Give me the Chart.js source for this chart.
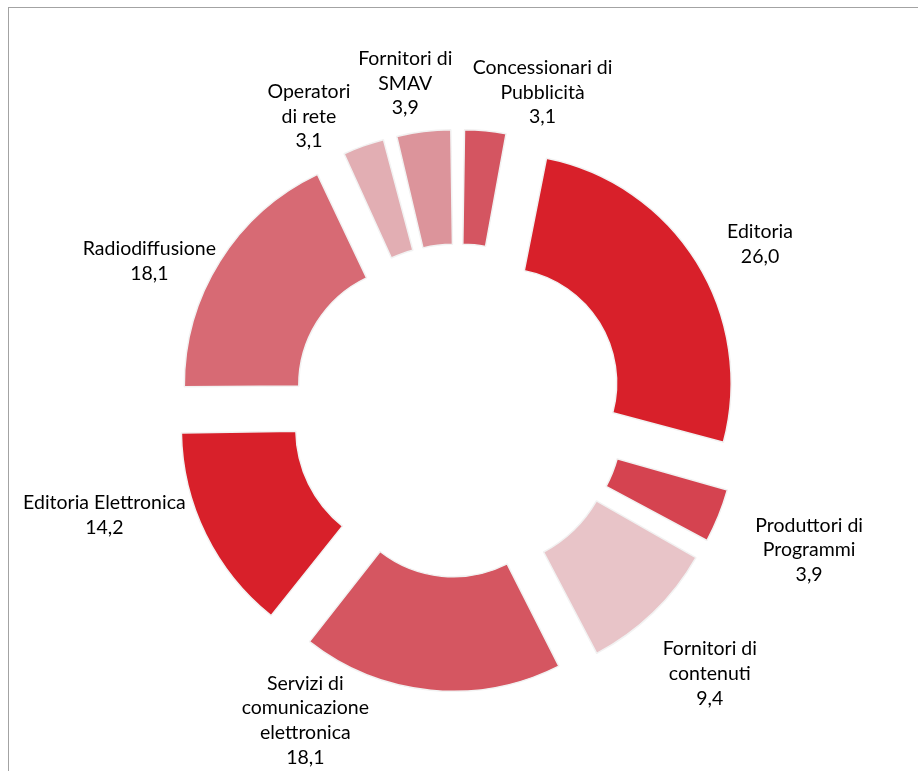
<!DOCTYPE html>
<html>
<head>
<meta charset="utf-8">
<script src="https://cdn.jsdelivr.net/npm/chart.js@4.4.1/dist/chart.umd.min.js"></script>
<style>
  html, body { margin: 0; padding: 0; background: #fff; }
  #wrap { position: relative; width: 918px; height: 771px; overflow: hidden; }
  #frame {
    position: absolute; left: 8px; top: 7px; width: 920px; height: 780px;
    border-top: 1.5px solid #a3a3a3; border-left: 1.5px solid #a3a3a3;
  }
  canvas { position: absolute; left: 0; top: 0; }
</style>
</head>
<body>
<div id="wrap">
  <div id="frame"></div>
  <canvas id="chart" width="918" height="771"></canvas>
</div>
<script>
// categories (multi-line labels) and values, clockwise from 12 o'clock
var categories = [
  ['Concessionari di', 'Pubblicità'],
  ['Editoria'],
  ['Produttori di', 'Programmi'],
  ['Fornitori di', 'contenuti'],
  ['Servizi di', 'comunicazione', 'elettronica'],
  ['Editoria Elettronica'],
  ['Radiodiffusione'],
  ['Operatori', 'di rete'],
  ['Fornitori di', 'SMAV']
];
var values = [3.1, 26.0, 3.9, 9.4, 18.1, 14.2, 18.1, 3.1, 3.9];
var sliceColors = ['#d45561', '#d8202a', '#d54350', '#e8c4c8', '#d55661',
                   '#d8202a', '#d76a74', '#e2aeb3', '#dc949b'];

var EXPLODE = 52; // how far every slice is pulled out (px)
var total = values.reduce(function (a, b) { return a + b; }, 0);

// chart.js arc offset: translate offset/4 plus radial push offset/4*fix
function sliceOffset(ctx) {
  var circ = values[ctx.dataIndex] / total * 2 * Math.PI;
  var fix = 1 - Math.sin(Math.min(Math.PI, circ));
  return 4 * EXPLODE / (1 + fix);
}

// small hand nudges so labels sit where the original put them
var labelNudge = [[52, 14], [21, 9], [23, 7], [9, 12], [-119, -34],
                  [-18, -60], [-4, 42], [-35, 25], [-12, 3]];

var sliceLabels = {
  id: 'sliceLabels',
  afterDatasetsDraw: function (chart) {
    var ctx = chart.ctx;
    var meta = chart.getDatasetMeta(0);
    var lh = 24.8;
    ctx.save();
    ctx.font = '19.5px Lato, "Open Sans", sans-serif';
    ctx.fillStyle = '#000';
    ctx.textAlign = 'center';
    ctx.textBaseline = 'middle';
    meta.data.forEach(function (arc, i) {
      var lines = categories[i].concat([values[i].toFixed(1).replace('.', ',')]);
      var w = 0;
      lines.forEach(function (l) { w = Math.max(w, ctx.measureText(l).width); });
      var h = lines.length * lh;
      var a = (arc.startAngle + arc.endAngle) / 2;
      var ux = Math.cos(a), uy = Math.sin(a);
      var edge = arc.outerRadius + EXPLODE + 9;
      var d = edge + Math.abs(ux) * w / 2 + Math.abs(uy) * h / 2;
      var cx = arc.x + ux * d + labelNudge[i][0];
      var cy = arc.y + uy * d + labelNudge[i][1];
      lines.forEach(function (l, k) {
        ctx.fillText(l, cx, cy + (k - (lines.length - 1) / 2) * lh);
      });
    });
    ctx.restore();
  }
};

new Chart(document.getElementById('chart'), {
  type: 'doughnut',
  data: {
    labels: categories,
    datasets: [{
      data: values,
      backgroundColor: sliceColors,
      borderColor: '#f2f2f2',
      borderWidth: 1.5,
      offset: sliceOffset,
      hoverOffset: sliceOffset,
      radius: 229,
      cutout: '50%'
    }]
  },
  options: {
    responsive: false,
    animation: false,
    events: [],
    layout: { padding: { top: 50, bottom: 0, left: 0, right: 2 } },
    plugins: {
      legend: { display: false },
      tooltip: { enabled: false }
    }
  },
  plugins: [sliceLabels]
});
</script>
</body>
</html>
